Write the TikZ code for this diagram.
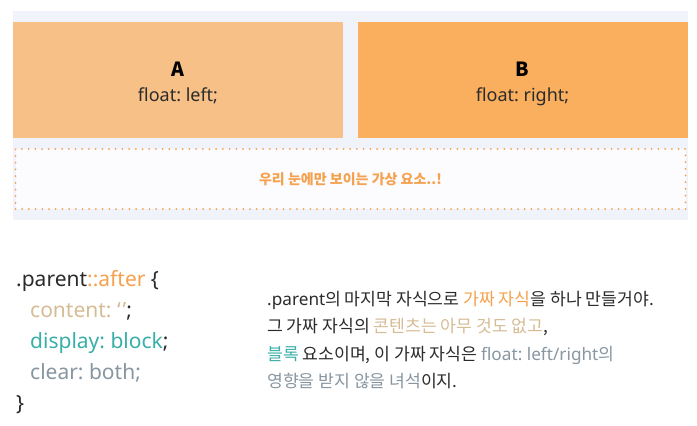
\documentclass[tikz,border=0pt]{standalone}
\usepackage{fontspec}
\setmainfont{Noto Sans}
\newfontfamily\kr{Noto Sans CJK KR}
\frenchspacing
\definecolor{panel}{HTML}{F0F3FA}
\definecolor{boxa}{HTML}{F7C087}
\definecolor{boxb}{HTML}{F9AF5E}
\definecolor{ghost}{HTML}{FCFBFE}
\definecolor{orng}{HTML}{F5A14D}
\definecolor{tan}{HTML}{D6BC95}
\definecolor{teal}{HTML}{3AAFA9}
\definecolor{slate}{HTML}{8796A1}
\definecolor{ink}{HTML}{2B2B2B}
\tikzset{
  floatbox/.style={minimum width=330pt, minimum height=116pt, inner sep=0pt, draw=none},
  letter/.style={anchor=base, inner sep=0pt, font=\fontsize{19.5}{22}\kr\bfseries, text=black},
  prop/.style={anchor=base, inner sep=0pt, font=\fontsize{18}{20}\selectfont\frenchspacing, text=ink},
  code/.style={anchor=base west, inner sep=0pt, font=\fontsize{21}{24}\selectfont\frenchspacing},
  para/.style={anchor=base west, inner sep=0pt, font=\fontsize{17.2}{20}\kr\frenchspacing, text=ink},
}
\begin{document}
\begin{tikzpicture}[x=1pt,y=-1pt]
\useasboundingbox (0,0) rectangle (697,426);
\fill[white] (0,0) rectangle (697,426);
\fill[panel] (13,11) rectangle (688,220);
\node[floatbox, fill=boxa] (boxA) at (178,80) {};
\node[floatbox, fill=boxb] (boxB) at (522.5,80) {};
\node[letter] (la) at (178,76) {A};
\node[prop] (pa) at (178,101.5) {float: left;};
\node[letter] (lb) at (522.5,76) {B};
\node[prop] (pb) at (522.5,101.5) {float: right;};
\node[minimum width=670pt, minimum height=60pt, inner sep=0pt, fill=ghost,
  draw=orng, line width=2pt, line cap=round, dash pattern=on 0pt off 6.7pt] (ghostbox) at (350.5,179) {};
\node[inner sep=0pt, text=orng, font=\fontsize{14}{16}\kr\bfseries] (ghosttext) at (ghostbox.center) {우리 눈에만 보이는 가상 요소..!};
% code
\node[code] (c1) at (16,286) {\textcolor{ink}{.parent}\textcolor{orng}{::after} \textcolor{ink}{\{}};
\node[code] (c2) at (30,317) {\textcolor{tan}{content: ‘\kern2pt’}\textcolor{ink}{;}};
\node[code] (c3) at (30,348) {\textcolor{teal}{display: block}\textcolor{ink}{;}};
\node[code] (c4) at (30,379) {\textcolor{slate}{clear: both;}};
\node[code] (c5) at (16,410) {\textcolor{ink}{\}}};
% paragraph
\node[para] (p1) at (267,305) {{\fontspec{Noto Sans}.parent}의 마지막 자식으로 \textcolor{orng}{가짜 자식}을 하나 만들거야.};
\node[para] (p2) at (267,332.5) {그 가짜 자식의 \textcolor{tan}{콘텐츠는 아무 것도 없고},};
\node[para] (p3) at (267,360) {\textcolor{teal}{블록} 요소이며, 이 가짜 자식은 \textcolor{slate}{{\fontspec{Noto Sans}float: left/right}의}};
\node[para] (p4) at (267,387.5) {\textcolor{slate}{영향을 받지 않을 녀석}이지.};
\end{tikzpicture}
\end{document}
